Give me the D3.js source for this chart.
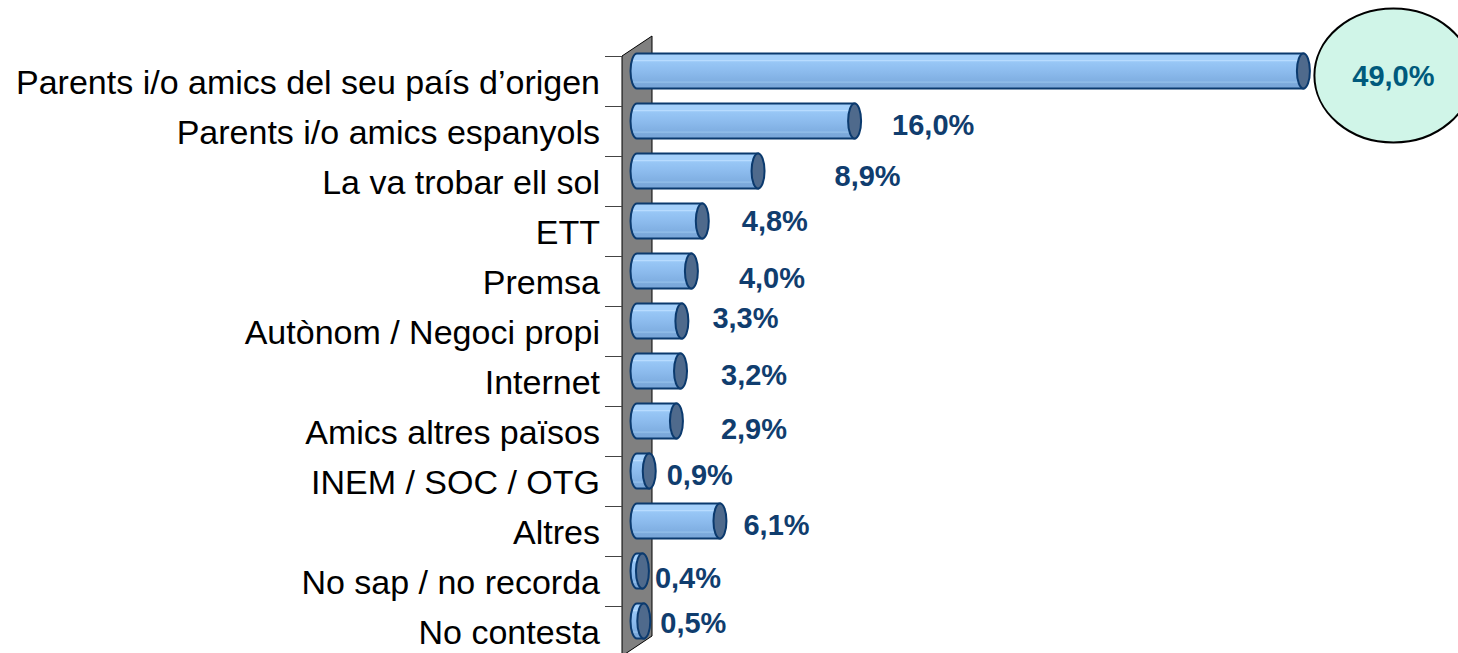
<!DOCTYPE html>
<html>
<head>
<meta charset="utf-8">
<script src="https://cdn.jsdelivr.net/npm/d3@7"></script>
<style>
  html, body { margin: 0; padding: 0; background: #fff; }
  svg { display: block; }
</style>
</head>
<body>
<svg id="chart"></svg>
<script>
// data
const categories = [
  "Parents i/o amics del seu país d\u2019origen",
  "Parents i/o amics espanyols",
  "La va trobar ell sol",
  "ETT",
  "Premsa",
  "Autònom / Negoci propi",
  "Internet",
  "Amics altres països",
  "INEM / SOC / OTG",
  "Altres",
  "No sap / no recorda",
  "No contesta"
];
const values = [49.0, 16.0, 8.9, 4.8, 4.0, 3.3, 3.2, 2.9, 0.9, 6.1, 0.4, 0.5];
const valueLabels = ["49,0%", "16,0%", "8,9%", "4,8%", "4,0%", "3,3%", "3,2%", "2,9%", "0,9%", "6,1%", "0,4%", "0,5%"];

// labels were dragged by hand in the original, small nudges (px)
const labelDx = [0, 31, 70, 33, 41, 24, 34, 38, 11, 17, 6, 10];
const labelDy = [0, 0, 1, -4, 3, -7, 0, 4, 0, 0, 3, -2];

const W = 1458, H = 653;
const depth = {dx: 30, dy: -20};
const wallX = 622;

const svg = d3.select("#chart").attr("width", W).attr("height", H);

const y = d3.scaleBand()
  .domain(categories)
  .range([56, 656])
  .paddingInner(0);

const x = d3.scaleLinear()
  .domain([0, 50])
  .range([wallX + depth.dx / 2, wallX + depth.dx / 2 + 680]);

const barH = 35, capRx = 6.5;

// gradient for the cylinders
const defs = svg.append("defs");
const grad = defs.append("linearGradient")
  .attr("id", "barFill")
  .attr("x1", 0).attr("y1", 0).attr("x2", 0).attr("y2", 1);
[
  [0, "#a4d0fb"], [0.18, "#a4d0fb"], [0.2, "#b8dcff"], [0.24, "#98c7f6"],
  [0.5, "#8dbcee"], [0.78, "#80afe2"], [0.82, "#93bfea"], [0.86, "#7ba9db"], [1, "#7aa7d9"]
].forEach(s => grad.append("stop").attr("offset", s[0]).attr("stop-color", s[1]));

// side wall
const yTop = y.range()[0], yBottom = y.range()[1];
svg.append("path")
  .attr("d", d3.line()([
    [wallX, yTop], [wallX + depth.dx, yTop + depth.dy],
    [wallX + depth.dx, yBottom + depth.dy], [wallX, yBottom]
  ]) + "Z")
  .attr("fill", "#808080")
  .attr("stroke", "#000")
  .attr("stroke-width", 1);

// category ticks
const tickY = categories.map(c => y(c)).concat([yBottom]);
svg.append("g").selectAll("line")
  .data(tickY)
  .join("line")
  .attr("x1", 605).attr("x2", wallX)
  .attr("y1", d => d + 0.5).attr("y2", d => d + 0.5)
  .attr("stroke", "#444").attr("stroke-width", 1);

// category labels
svg.append("g").selectAll("text")
  .data(categories)
  .join("text")
  .attr("x", 600)
  .attr("y", d => y(d) + y.bandwidth() / 2 + 13)
  .attr("text-anchor", "end")
  .attr("font-family", "'Liberation Sans', Arial, sans-serif")
  .attr("font-size", 34)
  .attr("fill", "#000")
  .text(d => d);

// bars
const rows = categories.map((c, i) => ({
  cat: c, value: values[i], label: valueLabels[i], i: i
}));
const barCy = d => y(d.cat) + y.bandwidth() / 2 + depth.dy / 2;

const bars = svg.append("g").selectAll("g")
  .data(rows)
  .join("g");

bars.append("path")
  .attr("d", d => {
    const x0 = x(0), x1 = x(d.value);
    const t = barCy(d) - barH / 2, b = barCy(d) + barH / 2;
    return `M${x0},${t}L${x1},${t}L${x1},${b}L${x0},${b}` +
      `A${capRx},${barH / 2} 0 0 1 ${x0},${t}Z`;
  })
  .attr("fill", "url(#barFill)")
  .attr("stroke", "#0b3a6e")
  .attr("stroke-width", 2);

bars.append("ellipse")
  .attr("cx", d => x(d.value))
  .attr("cy", barCy)
  .attr("rx", capRx)
  .attr("ry", barH / 2)
  .attr("fill", "#4f6a8c")
  .attr("stroke", "#0b3a6e")
  .attr("stroke-width", 2);

// value labels (first one goes in the callout)
svg.append("g").selectAll("text")
  .data(rows.slice(1))
  .join("text")
  .attr("x", d => x(d.value) + capRx + labelDx[d.i])
  .attr("y", d => barCy(d) + 10.5 + 3 + labelDy[d.i])
  .attr("font-family", "'Liberation Sans', Arial, sans-serif")
  .attr("font-size", 29)
  .attr("font-weight", "bold")
  .attr("fill", "#103d6e")
  .text(d => d.label);

// callout for the top value
const first = rows[0];
const callout = svg.append("g");
callout.append("ellipse")
  .attr("cx", x(first.value) + 90)
  .attr("cy", barCy(first) + 4.5)
  .attr("rx", 79)
  .attr("ry", 67)
  .attr("fill", "#d0f5e8")
  .attr("stroke", "#000")
  .attr("stroke-width", 2);
callout.append("text")
  .attr("x", x(first.value) + 90)
  .attr("y", barCy(first) + 14.5)
  .attr("text-anchor", "middle")
  .attr("font-family", "'Liberation Sans', Arial, sans-serif")
  .attr("font-size", 29)
  .attr("font-weight", "bold")
  .attr("fill", "#005a7c")
  .text(first.label);
</script>
</body>
</html>
